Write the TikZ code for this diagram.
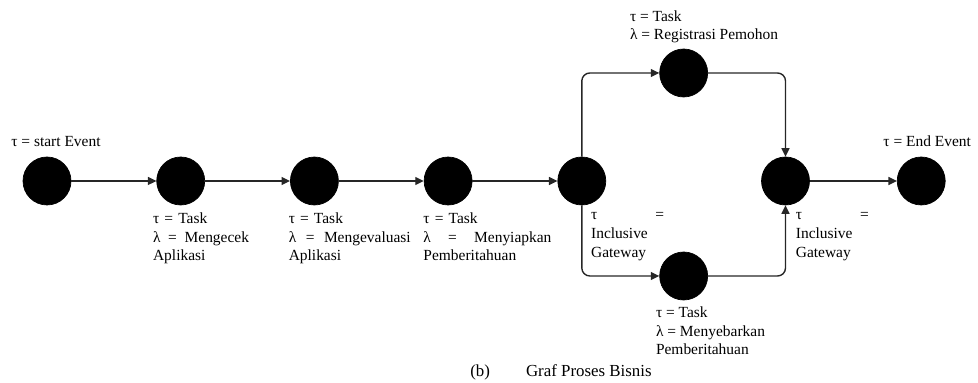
\documentclass[tikz,border=0pt]{standalone}
\usepackage{fontspec}
\setmainfont{Liberation Serif}
\usetikzlibrary{arrows.meta, positioning, calc}

\begin{document}
\begin{tikzpicture}[
    node distance = 1.7cm,
    % Styles
    circ/.style = {circle, fill=black, draw=black, inner sep=0pt, minimum size=0.96cm},
    lbl/.style = {inner sep=0pt, align=left, font=\fontsize{8.8}{10.6}\selectfont},
    arrow/.style = {-{Triangle[length=0.17cm, width=0.16cm]}, line width=0.8pt, draw=black!85},
    elbow/.style = {arrow, rounded corners=0.16cm}
]
\useasboundingbox (0,0) rectangle (19.56,-7.66);

% --- 1. MAIN FLOW ---
\node[circ] (start) at (0.94,-3.62) {};
\node[circ, right=of start] (cek) {};
\node[circ, right=of cek] (eval) {};
\node[circ, right=of eval] (siap) {};
\node[circ, right=of siap] (gwa) {};
\node[circ, right=3.1cm of gwa] (gwb) {};
\node[circ, right=1.74cm of gwb] (finish) {};

% --- 2. PARALLEL BRANCHES ---
\node[circ] (reg) at ($(gwa)!0.5!(gwb)+(0,2.16)$) {};
\node[circ] (sebar) at ($(gwa)!0.5!(gwb)+(0,-1.9)$) {};

% --- 3. LABELS ---
\node[lbl, above=0.2cm of start, xshift=0.18cm] (startlbl) {τ = start Event};
\node[lbl, below right=0.14cm and -0.56cm of cek.south, text width=1.92cm] (ceklbl)
    {τ = Task\\ λ \hfill = \hfill Mengecek\\ Aplikasi};
\node[lbl, below right=0.14cm and -0.52cm of eval.south, text width=2.44cm] (evallbl)
    {τ = Task\\ λ \hfill = \hfill Mengevaluasi\\ Aplikasi};
\node[lbl, below right=0.14cm and -0.5cm of siap.south, text width=2.56cm] (siaplbl)
    {τ = Task\\ λ \hfill = \hfill Menyiapkan\\ Pemberitahuan};
\node[lbl, below right=0.14cm and 0.18cm of gwa.south, text width=1.46cm] (gwalbl)
    {τ \hfill =\\ Inclusive\\ Gateway};
\node[lbl, below right=0.14cm and 0.2cm of gwb.south, text width=1.46cm] (gwblbl)
    {τ \hfill =\\ Inclusive\\ Gateway};
\node[lbl, above right=0.1cm and -1.08cm of reg.north] (reglbl)
    {τ = Task\\ λ = Registrasi Pemohon};
\node[lbl, below right=0.12cm and -0.56cm of sebar.south] (sebarlbl)
    {τ = Task\\ λ = Menyebarkan\\ Pemberitahuan};
\node[lbl, above=0.2cm of finish, xshift=0.12cm] (finishlbl) {τ = End Event};

% --- 4. CONNECTORS ---
\draw[arrow] (start) -- (cek);
\draw[arrow] (cek) -- (eval);
\draw[arrow] (eval) -- (siap);
\draw[arrow] (siap) -- (gwa);
\draw[elbow] (gwa.north) |- (reg.west);
\draw[elbow] (reg.east) -| (gwb.north);
\draw[elbow] (gwa.south) |- (sebar.west);
\draw[elbow] (sebar.east) -| (gwb.south);
\draw[arrow] (gwb) -- (finish);

% --- 5. CAPTION ---
\node[font=\fontsize{9.6}{11.5}\selectfont] (caption) at (11.22,-7.44)
    {(b)\hspace{0.72cm}Graf Proses Bisnis};

\end{tikzpicture}
\end{document}
